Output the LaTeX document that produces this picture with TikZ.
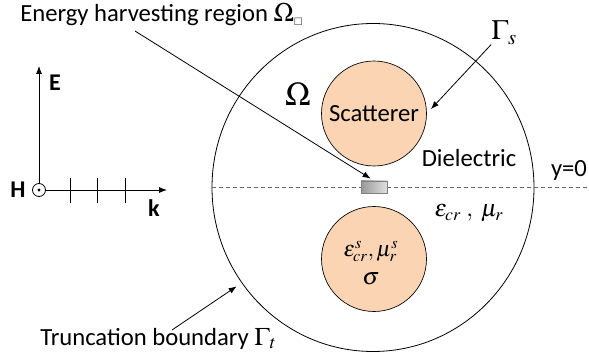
\documentclass[tikz,border=0pt]{standalone}
\usepackage{amssymb}
\usepackage{mathptmx}
\usepackage[no-math]{fontspec}
\setmainfont{Carlito}
\usetikzlibrary{arrows.meta,shapes.geometric,positioning}
\definecolor{peach}{RGB}{251,212,180}

\begin{document}
\begin{tikzpicture}[x=0.75pt, y=-0.75pt,
    arr/.style={-{Latex[length=6pt,width=4.5pt]}, line width=0.6pt},
    disk/.style={circle, draw, line width=0.5pt, fill=peach, minimum size=78.75pt, inner sep=0pt},
    txt/.style={font=\fontsize{18.5}{22}\selectfont, inner sep=0pt},
    vec/.style={font=\bfseries\fontsize{18}{22}\selectfont, inner sep=0pt}]
    \useasboundingbox (0,0) rectangle (589,363);

    % truncation boundary, y=0 line
    \node[ellipse, draw, line width=0.6pt, minimum width=241.5pt, minimum height=246pt, inner sep=0pt] (trunc) at (373,187.5) {};
    \coordinate (yend) at (589,187.5);
    \draw[dash pattern=on 3pt off 2.25pt, gray!80!black, line width=0.6pt] (trunc.west) -- (yend);

    % scatterers and harvesting region
    \node[disk, font=\fontsize{18.5}{22}\selectfont] (scat) at (374,113.5) {Scatterer};
    \node[disk] (cond) at (374,259) {};
    \node[draw=gray, left color=gray!80, right color=gray!25, minimum width=19.5pt, minimum height=9pt, inner sep=0pt] (harv) at (374,187) {};

    % labels
    \node[txt, anchor=base west] (ehr) at (20,22) {Energy harvesting region {\fontsize{20}{22}\selectfont$\Omega$}\raisebox{-3pt}{\fontsize{8}{8}\selectfont$\square$}};
    \node[inner sep=0pt, anchor=base west, font=\fontsize{21}{24}\selectfont] (gs) at (491,40) {$\Gamma_{s}$};
    \node[inner sep=0pt, font=\fontsize{25}{28}\selectfont] (om) at (298,94) {$\Omega$};
    \node[txt, anchor=base] (diel) at (469,166.5) {Dielectric};
    \node[txt, anchor=base] (yzero) at (569,177) {y=0};
    \node[inner sep=0pt, anchor=base, font=\fontsize{18}{20}\selectfont] (epsd) at (469,216.5) {$\varepsilon_{cr}\;,\;\mu_{r}$};
    \node[inner sep=0pt, anchor=base, font=\fontsize{16.5}{19}\selectfont] (epss) at (371,256.5) {$\varepsilon^{s}_{cr},\mu^{s}_{r}$};
    \node[inner sep=0pt, anchor=base, font=\fontsize{18}{20}\selectfont] (sig) at (371,285) {$\sigma$};
    \node[txt, anchor=base west] (tb) at (40,345) {Truncation boundary {\fontsize{19}{22}\selectfont$\Gamma_{t}$}};

    \coordinate (ehrtail) at (135,31);
    \coordinate (tbtail) at (172,330);
    \draw[arr, shorten >=3pt] (ehrtail) -- (harv.north);
    \draw[arr, shorten >=4.5pt] (gs.south west) -- (scat.east);
    \draw[arr, shorten >=4.5pt] (tbtail) -- (trunc.216);

    % field vectors
    \node[circle, draw, line width=0.6pt, minimum size=9.75pt, inner sep=0pt] (hdot) at (39,190) {};
    \fill (hdot) circle (1.3pt);
    \coordinate (etip) at (39,66);
    \coordinate (ktip) at (167,190);
    \draw[arr] (hdot.north) -- (etip);
    \draw[arr] (hdot.east) -- (ktip);
    \foreach \x in {70,97,125}
        \draw[line width=0.6pt] (\x,178) -- (\x,203);
    \node[vec] (E) at (55,83) {E};
    \node[vec] (H) at (18,190) {H};
    \node[vec] (k) at (154,208.5) {k};
\end{tikzpicture}
\end{document}
